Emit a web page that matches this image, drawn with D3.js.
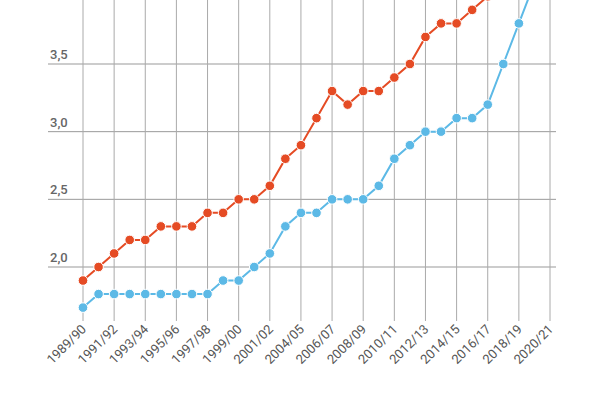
<!DOCTYPE html><html><head><meta charset="utf-8"><script src="https://cdn.jsdelivr.net/npm/d3@7"></script>
<style>body{margin:0;background:#fff}</style></head><body><svg width="600" height="400"></svg><script>
const categories=["1989/90","1990/91","1991/92","1992/93","1993/94","1994/95","1995/96","1996/97","1997/98","1998/99","1999/00","2000/01","2001/02","2003/04","2004/05","2005/06","2006/07","2007/08","2008/09","2009/10","2010/11","2011/12","2012/13","2013/14","2014/15","2015/16","2016/17","2017/18","2018/19","2019/20","2020/21"];
const redValues=[1.9,2.0,2.1,2.2,2.2,2.3,2.3,2.3,2.4,2.4,2.5,2.5,2.6,2.8,2.9,3.1,3.3,3.2,3.3,3.3,3.4,3.5,3.7,3.8,3.8,3.9,4.0,4.1,4.2,4.3,4.4];
const blueValues=[1.7,1.8,1.8,1.8,1.8,1.8,1.8,1.8,1.8,1.9,1.9,2.0,2.1,2.3,2.4,2.4,2.5,2.5,2.5,2.6,2.8,2.9,3.0,3.0,3.1,3.1,3.2,3.5,3.8,4.1,4.4];
const yTicks=[2.0,2.5,3.0,3.5];
const svg=d3.select("svg");
const x=d3.scalePoint().domain(categories).range([83,550]);
const y=d3.scaleLinear().domain([2.0,3.5]).range([267,64]);
const g=svg.append("g");
yTicks.forEach(t=>{
 g.append("line").attr("x1",48).attr("x2",556).attr("y1",y(t)).attr("y2",y(t)).attr("stroke","#999").attr("stroke-width",1);
 g.append("text").attr("x",50).attr("y",y(t)-5).text(d3.format(".1f")(t).replace(".",",")).attr("font-family","Roboto").attr("font-size",13).attr("font-weight","500").attr("fill","#666");
});
categories.forEach((c,i)=>{ if(i%2===0){
 g.append("line").attr("x1",x(c)).attr("x2",x(c)).attr("y1",0).attr("y2",321).attr("stroke","#aaa").attr("stroke-width",1);
 g.append("text").attr("transform",`translate(${x(c)+4},${330}) rotate(-45)`).attr("text-anchor","end").attr("font-family","Roboto").attr("font-size",13).attr("fill","#555").text(c);
}});
function series(vals,col){
 const line=d3.line().x((d,i)=>x(categories[i])).y(d=>y(d));
 svg.append("path").datum(vals).attr("d",line).attr("fill","none").attr("stroke",col).attr("stroke-width",2);
 svg.selectAll(null).data(vals).enter().append("circle").attr("cx",(d,i)=>x(categories[i])).attr("cy",d=>y(d)).attr("r",4.8).attr("fill",col).attr("stroke","#fff").attr("stroke-width",1);
}
series(blueValues,"#5cb9e6");
series(redValues,"#e54b24");
</script></body></html>
